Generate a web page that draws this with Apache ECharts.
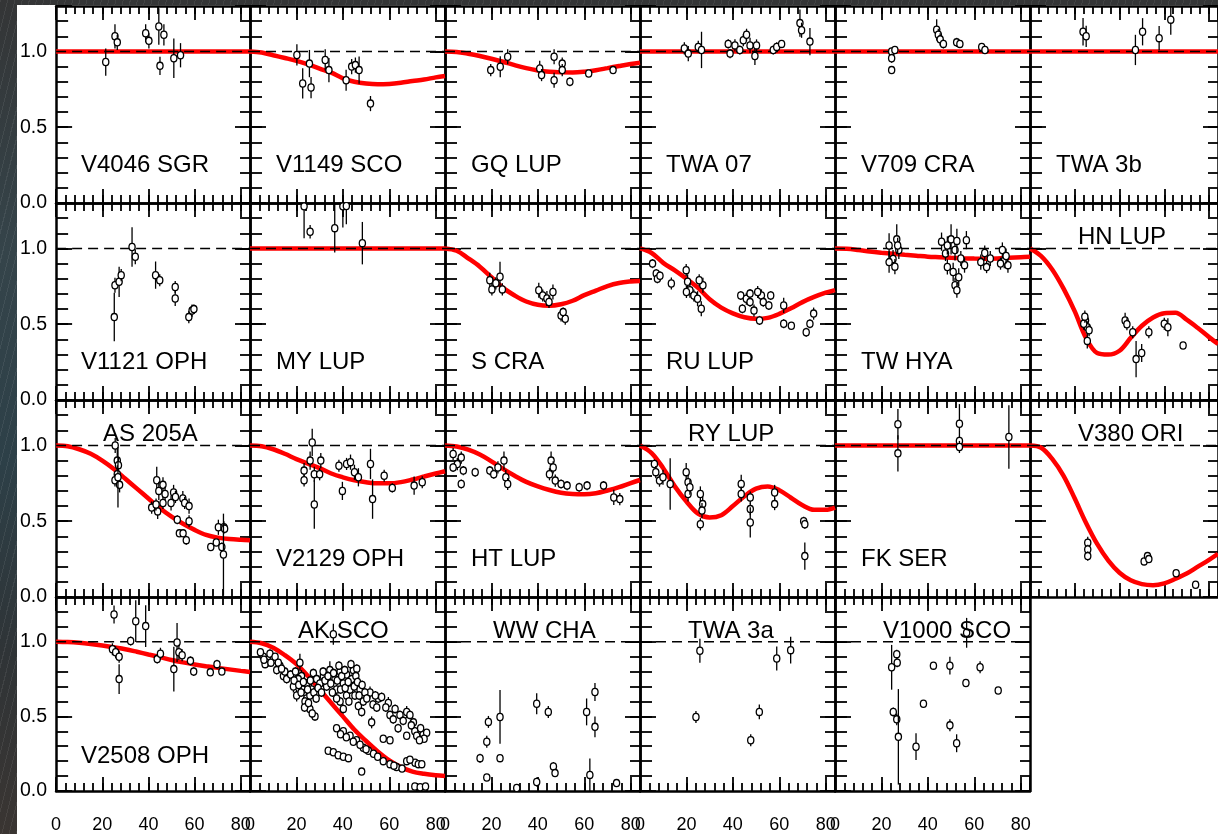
<!DOCTYPE html>
<html>
<head>
<meta charset="utf-8">
<script src="https://cdn.jsdelivr.net/npm/echarts@6/dist/echarts.min.js"></script>
<style>
  html, body { margin: 0; padding: 0; width: 1218px; height: 834px; overflow: hidden; }
  body {
    background:
      repeating-linear-gradient(104deg, rgba(255,255,255,0.07) 0 1px, rgba(0,0,0,0) 1px 7px),
      linear-gradient(180deg, #343536 0%, #35444a 30%, #2d4048 55%, #2f3437 78%, #3a3532 100%);
  }
  #chart { position: absolute; left: 17px; top: 5px; width: 1201px; height: 829px; background: #fff; }
</style>
</head>
<body>
<div id="chart"></div>
<script>
// Baseline grid on which every model curve is sampled (m)
const modelX = [0, 5, 10, 15, 20, 25, 30, 35, 40, 45, 50, 55, 60, 65, 70, 75, 80, 84];
const xTickLabels = [0, 20, 40, 60, 80];
const yTickLabels = [0.0, 0.5, 1.0];
const unityLine = [[0, 1], [84, 1]];

// Unresolved (point-like) model
const flatModel = [1, 1, 1, 1, 1, 1, 1, 1, 1, 1, 1, 1, 1, 1, 1, 1, 1, 1];

// Observations: [baseline, squared visibility, error]
const v4046Sgr = [[21.5,0.93,0.09],[25.5,1.10,0.08],[26.5,1.06,0.05],[38.8,1.12,0.06],[40.2,1.07,0.05],[44.5,1.165,0.12],[46.7,1.11,0.07],[45.0,0.905,0.06],[51.0,0.955,0.13],[53.9,0.975,0.08]];

const v1149Sco = [[20.2,0.977,0.07],[22.7,0.789,0.1],[25.6,0.92,0.09],[26.3,0.762,0.07],[32.4,0.944,0.07],[34.0,0.877,0.08],[41.4,0.81,0.07],[43.8,0.90,0.05],[45.4,0.91,0.05],[47.0,0.877,0.09],[51.9,0.656,0.05]];
const v1149ScoModel = [1.0,0.993,0.975,0.957,0.938,0.915,0.887,0.86,0.823,0.8,0.788,0.783,0.786,0.794,0.805,0.815,0.829,0.838];

const gqLup = [[19.7,0.877,0.04],[23.8,0.899,0.07],[27.0,0.965,0.05],[40.8,0.888,0.05],[41.6,0.844,0.04],[47.0,0.965,0.05],[47.0,0.81,0.05],[50.5,0.92,0.04],[50.5,0.877,0.04],[53.8,0.80,0.03],[61.9,0.855,0.02],[72.4,0.877,0.02]];
const gqLupModel = [1.0,0.997,0.985,0.97,0.952,0.932,0.91,0.89,0.875,0.866,0.862,0.861,0.866,0.876,0.89,0.904,0.917,0.925];

const twa07 = [[19.1,1.02,0.04],[20.8,0.986,0.05],[25.1,1.03,0.04],[26.5,1.01,0.12],[38.0,1.05,0.03],[38.8,0.986,0.03],[40.9,1.04,0.04],[43.0,1.01,0.03],[44.5,1.074,0.04],[45.9,1.11,0.04],[47.4,1.04,0.05],[49.5,0.97,0.06],[50.2,1.04,0.04],[57.4,1.01,0.03],[58.9,1.03,0.03],[61.0,1.05,0.02],[68.9,1.187,0.09],[69.6,1.14,0.05],[73.2,1.065,0.09]];

const v709Cra = [[24.4,1.0,0.02],[24.4,0.955,0.03],[24.4,0.877,0.02],[25.8,1.01,0.02],[43.8,1.143,0.07],[44.5,1.11,0.04],[45.3,1.08,0.04],[46.7,1.05,0.03],[52.4,1.06,0.03],[53.8,1.05,0.02],[63.2,1.03,0.02],[64.6,1.01,0.02]];

const twa3b = [[23.7,1.13,0.09],[25.1,1.10,0.07],[47.1,1.01,0.1],[50.3,1.13,0.09],[57.7,1.088,0.08],[62.9,1.21,0.1]];

const v1121Oph = [[25.2,0.547,0.16],[25.5,0.757,0.05],[27.3,0.78,0.1],[28.2,0.824,0.04],[32.9,1.01,0.13],[34.3,0.945,0.05],[43.1,0.824,0.09],[44.9,0.79,0.04],[51.6,0.746,0.04],[51.6,0.67,0.05],[57.5,0.547,0.04],[58.9,0.59,0.04],[59.7,0.60,0.03]];

const myLup = [[23.3,1.278,0.21],[25.9,1.11,0.045],[36.5,1.134,0.16],[40.0,1.278,0.14],[41.5,1.28,0.12],[48.4,1.035,0.14]];

const sCra = [[19.3,0.79,0.05],[20.2,0.73,0.04],[21.9,0.77,0.04],[23.7,0.813,0.1],[24.7,0.73,0.04],[40.4,0.724,0.05],[42.1,0.69,0.04],[43.9,0.67,0.05],[46.5,0.713,0.05],[44.8,0.647,0.04],[50.0,0.558,0.04],[51.8,0.536,0.04],[50.9,0.58,0.03]];
const sCraModel = [1.0,0.985,0.935,0.88,0.81,0.74,0.69,0.65,0.628,0.622,0.632,0.655,0.692,0.722,0.752,0.772,0.782,0.786];

const ruLup = [[5.4,0.90,0.03],[7.0,0.835,0.03],[7.5,0.80,0.03],[8.6,0.82,0.03],[13.5,0.769,0.04],[19.9,0.857,0.04],[20.5,0.78,0.05],[21.5,0.724,0.05],[20.0,0.713,0.04],[23.2,0.69,0.04],[24.8,0.668,0.05],[26.4,0.602,0.05],[27.1,0.757,0.05],[25.5,0.79,0.04],[43.4,0.69,0.03],[44.1,0.602,0.03],[45.8,0.668,0.04],[47.4,0.646,0.03],[47.4,0.702,0.03],[49.1,0.59,0.04],[51.5,0.525,0.03],[52.3,0.69,0.04],[53.1,0.646,0.03],[55.5,0.624,0.03],[56.3,0.69,0.03],[50.7,0.713,0.04],[61.9,0.624,0.05],[61.9,0.503,0.03],[65.2,0.49,0.02],[71.6,0.447,0.03],[73.2,0.503,0.03],[74.8,0.57,0.04]];
const ruLupModel = [1.0,0.97,0.905,0.855,0.8,0.74,0.665,0.61,0.572,0.546,0.536,0.542,0.568,0.605,0.646,0.68,0.708,0.725];

const twHya = [[23.3,1.02,0.08],[25.0,0.93,0.06],[26.6,1.06,0.1],[27.5,0.99,0.06],[25.8,0.88,0.05],[23.3,0.91,0.07],[27.0,1.02,0.05],[45.9,1.045,0.06],[47.6,0.967,0.05],[48.4,1.02,0.06],[50.0,1.06,0.1],[51.7,0.99,0.07],[52.5,1.05,0.08],[50.9,0.845,0.06],[51.7,0.757,0.05],[53.3,0.81,0.06],[54.2,0.934,0.05],[55.8,0.89,0.05],[56.6,1.055,0.06],[48.4,0.878,0.05],[52.5,0.724,0.05],[62.8,0.91,0.05],[64.5,0.97,0.05],[65.3,0.877,0.04],[66.9,0.934,0.05],[72.1,0.99,0.05],[72.9,0.92,0.05],[74.5,0.89,0.05],[73.7,0.95,0.05],[71.3,0.90,0.04]];
const twHyaModel = [1.0,0.998,0.99,0.98,0.972,0.965,0.958,0.952,0.946,0.942,0.938,0.935,0.933,0.932,0.934,0.938,0.942,0.945];

const hnLup = [[24.8,0.525,0.05],[25.6,0.48,0.04],[24.0,0.503,0.04],[26.4,0.46,0.04],[25.6,0.39,0.05],[24.5,0.55,0.04],[42.5,0.525,0.05],[43.3,0.50,0.04],[45.9,0.447,0.04],[47.4,0.27,0.12],[49.9,0.31,0.06],[53.1,0.447,0.04],[60.0,0.503,0.04],[61.6,0.48,0.06],[68.4,0.36,0.02]];
const hnLupModel = [1.0,0.95,0.86,0.735,0.585,0.41,0.31,0.3,0.325,0.41,0.49,0.545,0.572,0.575,0.53,0.475,0.415,0.37];

const as205a = [[25.6,1.0,0.05],[26.5,0.9,0.08],[27.0,0.87,0.05],[26.5,0.81,0.06],[25.5,0.77,0.04],[27.5,0.74,0.05],[26.8,0.79,0.2],[43.6,0.77,0.09],[44.5,0.70,0.06],[46.3,0.74,0.05],[47.2,0.68,0.05],[41.4,0.59,0.04],[44.0,0.565,0.05],[46.3,0.62,0.04],[43.3,0.61,0.04],[50.9,0.69,0.05],[51.7,0.66,0.04],[49.8,0.62,0.05],[52.5,0.51,0.03],[53.4,0.42,0.02],[55.0,0.42,0.02],[54.9,0.65,0.05],[55.7,0.62,0.04],[56.4,0.375,0.03],[57.6,0.60,0.05],[57.6,0.50,0.04],[67.0,0.33,0.02],[69.4,0.36,0.02],[70.3,0.46,0.05],[71.8,0.33,0.03],[72.7,0.46,0.04],[73.0,0.45,0.03],[72.5,0.28,0.27]];
const as205aModel = [1.0,0.995,0.975,0.945,0.9,0.845,0.78,0.715,0.65,0.585,0.53,0.483,0.443,0.41,0.392,0.382,0.377,0.375];

const v2129Oph = [[26.8,1.02,0.09],[25.9,0.90,0.06],[23.3,0.834,0.05],[23.3,0.77,0.04],[27.7,0.81,0.05],[30.0,0.81,0.04],[27.7,0.61,0.16],[30.5,0.9,0.05],[38.3,0.866,0.04],[39.8,0.70,0.06],[41.6,0.878,0.04],[43.3,0.89,0.05],[45.0,0.823,0.05],[46.7,0.79,0.06],[51.9,0.878,0.1],[52.8,0.646,0.13],[57.8,0.80,0.04],[61.3,0.72,0.03],[70.7,0.735,0.06],[74.2,0.757,0.04]];
const v2129OphModel = [1.0,0.995,0.975,0.945,0.91,0.88,0.85,0.815,0.79,0.77,0.757,0.75,0.75,0.758,0.775,0.795,0.815,0.83];

const htLup = [[3.5,0.944,0.04],[5.3,0.877,0.04],[7.0,0.92,0.04],[3.5,0.855,0.03],[7.9,0.834,0.03],[7.0,0.746,0.03],[13.0,0.823,0.03],[19.3,0.834,0.03],[21.0,0.81,0.03],[22.8,0.855,0.04],[25.4,0.90,0.06],[26.2,0.79,0.05],[27.0,0.746,0.04],[45.7,0.90,0.06],[46.6,0.855,0.04],[45.0,0.81,0.04],[47.5,0.768,0.04],[50.0,0.746,0.03],[52.6,0.735,0.03],[57.8,0.724,0.03],[61.2,0.735,0.03],[68.3,0.735,0.03],[72.7,0.657,0.05],[75.3,0.646,0.04]];
const htLupModel = [1.0,0.993,0.972,0.94,0.895,0.845,0.8,0.76,0.73,0.706,0.688,0.68,0.678,0.685,0.703,0.725,0.752,0.772];

const ryLup = [[6.2,0.878,0.03],[6.8,0.824,0.04],[8.4,0.768,0.04],[9.9,0.79,0.05],[13.0,0.746,0.17],[19.9,0.824,0.06],[20.7,0.757,0.05],[20.7,0.68,0.05],[21.5,0.724,0.05],[26.0,0.68,0.05],[27.0,0.613,0.05],[26.0,0.48,0.04],[26.7,0.57,0.05],[43.6,0.746,0.06],[43.6,0.68,0.05],[47.5,0.657,0.04],[47.5,0.58,0.04],[47.5,0.492,0.1],[58.0,0.69,0.05],[58.0,0.613,0.04],[70.5,0.50,0.03],[71.0,0.48,0.03],[71.0,0.27,0.09]];
const ryLupModel = [1.0,0.95,0.85,0.73,0.63,0.55,0.525,0.54,0.6,0.665,0.715,0.73,0.705,0.655,0.605,0.575,0.575,0.59];

const fkSer = [[27.1,1.14,0.1],[27.1,0.948,0.12],[53.6,1.143,0.13],[53.6,1.03,0.03],[53.6,0.99,0.04],[74.9,1.056,0.21]];

const v380Ori = [[25.8,0.358,0.04],[25.8,0.314,0.03],[25.8,0.27,0.03],[51.0,0.235,0.02],[52.5,0.27,0.02],[53.1,0.25,0.02],[65.3,0.157,0.02],[74.0,0.081,0.02]];
const v380OriModel = [1.0,0.985,0.91,0.8,0.65,0.49,0.35,0.24,0.16,0.11,0.085,0.078,0.09,0.12,0.155,0.2,0.245,0.285];

const v2508Oph = [[25.1,1.183,0.06],[24.4,0.95,0.04],[25.8,0.93,0.04],[27.3,0.90,0.04],[27.3,0.75,0.1],[32.3,1.005,0.03],[34.5,1.138,0.14],[38.8,1.105,0.14],[43.8,0.884,0.03],[45.2,0.92,0.04],[51.0,0.817,0.15],[52.4,0.995,0.13],[53.2,0.93,0.05],[54.6,0.91,0.04],[58.2,0.872,0.03],[59.6,0.80,0.03],[66.8,0.795,0.02],[69.7,0.85,0.03],[71.8,0.80,0.02]];
const v2508OphModel = [1.0,0.998,0.993,0.985,0.975,0.963,0.95,0.933,0.915,0.897,0.878,0.862,0.848,0.836,0.825,0.815,0.805,0.798];

const akSco = [[5.7,0.90,0.03],[7.2,0.86,0.03],[8.6,0.92,0.03],[10.0,0.88,0.03],[6.5,0.85,0.02],[12.9,0.84,0.03],[11.5,0.81,0.03],[14.4,0.77,0.03],[15.8,0.75,0.03],[15.0,0.80,0.03],[18.7,0.70,0.04],[20.1,0.64,0.04],[21.5,0.86,0.06],[22.2,0.77,0.04],[22.9,0.68,0.04],[24.4,0.72,0.03],[24.4,0.62,0.04],[25.8,0.55,0.03],[26.5,0.68,0.04],[27.3,0.79,0.03],[28.0,0.50,0.03],[25.8,0.64,0.03],[23.7,0.60,0.03],[28.7,0.75,0.03],[20.8,0.75,0.03],[30.1,0.72,0.03],[31.6,0.77,0.04],[33.0,0.70,0.03],[34.4,0.81,0.06],[35.9,1.05,0.07],[36.6,0.75,0.03],[37.3,0.68,0.03],[38.8,0.80,0.04],[40.2,0.72,0.03],[41.6,0.78,0.04],[41.6,0.64,0.03],[43.1,0.68,0.03],[43.8,0.75,0.03],[44.5,0.81,0.03],[46.0,0.82,0.03],[45.2,0.64,0.03],[46.7,0.57,0.03],[38.8,0.60,0.03],[40.2,0.55,0.03],[37.3,0.62,0.03],[47.4,0.68,0.03],[48.8,0.60,0.03],[48.1,0.53,0.03],[51.7,0.66,0.04],[52.4,0.46,0.04],[55.3,0.62,0.03],[56.7,0.63,0.03],[54.0,0.64,0.03],[59.6,0.59,0.04],[60.3,0.51,0.03],[61.7,0.48,0.03],[63.8,0.42,0.03],[64.6,0.51,0.03],[57.4,0.35,0.02],[60.3,0.34,0.02],[67.5,0.53,0.04],[68.9,0.51,0.03],[70.4,0.46,0.03],[71.0,0.40,0.03],[67.5,0.37,0.02],[71.8,0.37,0.02],[74.6,0.38,0.02],[76.1,0.39,0.02],[67.5,0.20,0.02],[71.1,0.19,0.02],[72.5,0.18,0.02],[37.3,0.42,0.02],[40.2,0.40,0.02],[43.1,0.37,0.02],[45.9,0.34,0.02],[48.8,0.29,0.02],[51.0,0.27,0.02],[53.2,0.25,0.02],[57.4,0.20,0.02],[60.3,0.18,0.02],[63.1,0.16,0.02],[44.5,0.33,0.02],[47.4,0.31,0.02],[33.7,0.27,0.02],[35.9,0.26,0.02],[38.0,0.24,0.02],[40.2,0.23,0.02],[42.4,0.22,0.02],[48.1,0.13,0.02],[71.0,0.03,0.02],[73.3,0.025,0.02],[75.6,0.03,0.02],
  [4.5,0.93,0.02],[6.0,0.88,0.02],[9.0,0.86,0.02],[10.8,0.90,0.02],[12.2,0.86,0.02],[13.6,0.82,0.02],[17.5,0.78,0.03],[19.0,0.74,0.03],[19.6,0.80,0.03],[21.0,0.71,0.03],[22.0,0.66,0.03],[23.0,0.73,0.03],[23.5,0.56,0.03],[24.8,0.68,0.03],[25.2,0.59,0.03],[26.0,0.74,0.03],[26.8,0.52,0.03],[27.5,0.66,0.03],[28.5,0.62,0.03],[29.3,0.69,0.03],[30.8,0.66,0.03],[31.5,0.80,0.03],[32.3,0.74,0.03],[33.6,0.77,0.03],[34.8,0.72,0.03],[35.5,0.66,0.03],[36.0,0.79,0.03],[37.6,0.74,0.03],[38.3,0.84,0.03],[39.5,0.77,0.03],[39.0,0.68,0.03],[40.8,0.81,0.03],[41.0,0.69,0.03],[42.3,0.73,0.03],[42.6,0.60,0.03],[43.5,0.85,0.03],[44.9,0.70,0.03],[45.6,0.77,0.03],[46.3,0.73,0.03],[47.0,0.64,0.03],[48.3,0.71,0.03],[49.5,0.66,0.03],[50.3,0.62,0.03],[53.0,0.58,0.03],[54.6,0.56,0.03],[58.5,0.56,0.03],[62.5,0.55,0.03],[66.0,0.47,0.03],[69.5,0.44,0.03],[73.5,0.42,0.03],[75.0,0.35,0.02],[73.0,0.34,0.02],[39.0,0.38,0.02],[41.5,0.36,0.02],[50.0,0.28,0.02],[55.0,0.23,0.02],[62.0,0.17,0.02],[65.5,0.15,0.02],[68.9,0.21,0.02],[74.0,0.18,0.02]];
const akScoModel = [1.0,0.99,0.96,0.91,0.85,0.77,0.68,0.59,0.5,0.41,0.335,0.265,0.205,0.16,0.13,0.115,0.105,0.1];

const wwCha = [[15.1,0.22,0.03],[18.0,0.33,0.04],[18.7,0.463,0.04],[23.7,0.496,0.18],[23.7,0.22,0.02],[18.0,0.09,0.02],[30.9,0.02,0.02],[39.5,0.585,0.07],[39.5,0.06,0.03],[44.5,0.53,0.04],[46.7,0.164,0.03],[47.4,0.12,0.02],[61.0,0.53,0.09],[64.6,0.663,0.06],[64.6,0.43,0.07],[62.4,0.108,0.11],[73.9,0.053,0.02]];

const twa3a = [[25.8,0.94,0.08],[24.1,0.496,0.04],[47.7,0.34,0.04],[51.4,0.53,0.05],[58.9,0.888,0.08],[64.9,0.944,0.09]];

const v1000Sco = [[24.4,0.829,0.15],[26.6,0.917,0.03],[26.8,0.86,0.03],[25.1,0.53,0.03],[26.6,0.48,0.04],[27.3,0.363,0.32],[34.9,0.297,0.09],[38.1,0.585,0.02],[42.4,0.84,0.02],[49.5,0.84,0.06],[49.5,0.44,0.04],[52.4,0.32,0.06],[56.4,0.724,0.02],[62.5,0.829,0.04],[70.3,0.673,0.02],[56.7,1.06,0.1]];

// Panel order is row by row; "top" puts the star name above the unity line
const panels = [
  { name: 'V4046 SGR', obs: v4046Sgr, model: flatModel, tag: 'low' },
  { name: 'V1149 SCO', obs: v1149Sco, model: v1149ScoModel, tag: 'low' },
  { name: 'GQ LUP', obs: gqLup, model: gqLupModel, tag: 'low' },
  { name: 'TWA 07', obs: twa07, model: flatModel, tag: 'low' },
  { name: 'V709 CRA', obs: v709Cra, model: flatModel, tag: 'low' },
  { name: 'TWA 3b', obs: twa3b, model: flatModel, tag: 'low' },
  { name: 'V1121 OPH', obs: v1121Oph, model: null, tag: 'low' },
  { name: 'MY LUP', obs: myLup, model: flatModel, tag: 'low' },
  { name: 'S CRA', obs: sCra, model: sCraModel, tag: 'low' },
  { name: 'RU LUP', obs: ruLup, model: ruLupModel, tag: 'low' },
  { name: 'TW HYA', obs: twHya, model: twHyaModel, tag: 'low' },
  { name: 'HN LUP', obs: hnLup, model: hnLupModel, tag: 'top' },
  { name: 'AS 205A', obs: as205a, model: as205aModel, tag: 'top' },
  { name: 'V2129 OPH', obs: v2129Oph, model: v2129OphModel, tag: 'low' },
  { name: 'HT LUP', obs: htLup, model: htLupModel, tag: 'low' },
  { name: 'RY LUP', obs: ryLup, model: ryLupModel, tag: 'top' },
  { name: 'FK SER', obs: fkSer, model: flatModel, tag: 'low' },
  { name: 'V380 ORI', obs: v380Ori, model: v380OriModel, tag: 'top' },
  { name: 'V2508 OPH', obs: v2508Oph, model: v2508OphModel, tag: 'low' },
  { name: 'AK SCO', obs: akSco, model: akScoModel, tag: 'top' },
  { name: 'WW CHA', obs: wwCha, model: null, tag: 'top' },
  { name: 'TWA 3a', obs: twa3a, model: null, tag: 'top' },
  { name: 'V1000 SCO', obs: v1000Sco, model: null, tag: 'top' }
];

const FONT = '"Liberation Sans", Arial, Helvetica, sans-serif';
const COLS = 6, PANEL_W = 195, PANEL_H = 197, LEFT0 = 38, TOP0 = 1;
const X_MAX = 84, Y_MAX = 1.3;

const grids = [], xAxes = [], yAxes = [], series = [], texts = [];

function tickAxis(base, interval, length, showLine) {
  return Object.assign({
    type: 'value', interval: interval,
    axisLine: { show: showLine, onZero: false, lineStyle: { color: '#000', width: 2.5 } },
    axisTick: { show: true, inside: true, length: length, lineStyle: { color: '#000', width: 1.8 } },
    axisLabel: { show: false },
    splitLine: { show: false }
  }, base);
}

function xLabel(keep) {
  return {
    show: true, margin: 25, color: '#000', fontFamily: FONT, fontSize: 18,
    showMinLabel: true, showMaxLabel: true, hideOverlap: false,
    formatter: v => (xTickLabels.indexOf(v) >= 0 && keep(v) ? String(v) : '')
  };
}

function drawObs(params, api) {
  const x = api.value(0), y = api.value(1), e = api.value(2);
  const c = api.coord([x, y]);
  const hi = api.coord([x, y + e]);
  const lo = api.coord([x, y - e]);
  return {
    type: 'group',
    children: [
      { type: 'line', shape: { x1: c[0], y1: hi[1], x2: c[0], y2: lo[1] }, style: { stroke: '#000', lineWidth: 1.3 } },
      { type: 'ellipse', shape: { cx: c[0], cy: c[1], rx: 3.1, ry: 3.6 }, style: { fill: '#fff', stroke: '#000', lineWidth: 1.3 } }
    ]
  };
}

panels.forEach((p, i) => {
  const row = Math.floor(i / COLS), col = i % COLS;
  const left = LEFT0 + col * PANEL_W, top = TOP0 + row * PANEL_H;
  grids.push({ left: left, top: top, width: PANEL_W, height: PANEL_H, containLabel: false });

  const xb = { gridIndex: i, min: 0, max: X_MAX };
  const bottomMajor = tickAxis(Object.assign({ position: 'bottom' }, xb), 20, 14, true);
  const bottomMinor = tickAxis(Object.assign({ position: 'bottom' }, xb), 4, 8, false);
  if (row === 3) {
    // the zero label sits on the minor axis so it is kept next to the neighbour's "80"
    bottomMajor.axisLabel = xLabel(v => v !== 0);
    bottomMinor.axisLabel = xLabel(v => v === 0);
  }
  xAxes.push(bottomMajor);
  xAxes.push(bottomMinor);
  xAxes.push(tickAxis(Object.assign({ position: 'top' }, xb), 20, 14, true));
  xAxes.push(tickAxis(Object.assign({ position: 'top' }, xb), 4, 8, false));

  const yb = { gridIndex: i, min: 0, max: Y_MAX };
  const leftMajor = tickAxis(Object.assign({ position: 'left' }, yb), 0.5, 16, true);
  if (col === 0) {
    leftMajor.axisLabel = {
      show: true, margin: 9, color: '#000', fontFamily: FONT, fontSize: 19.5,
      formatter: v => (yTickLabels.some(t => Math.abs(t - v) < 1e-6) ? v.toFixed(1) : '')
    };
  }
  yAxes.push(leftMajor);
  yAxes.push(tickAxis(Object.assign({ position: 'left' }, yb), 0.1, 12, false));
  yAxes.push(tickAxis(Object.assign({ position: 'right' }, yb), 0.5, 15, true));
  yAxes.push(tickAxis(Object.assign({ position: 'right' }, yb), 0.1, 10, false));

  const ax = { xAxisIndex: 4 * i, yAxisIndex: 4 * i };

  if (p.model) {
    series.push(Object.assign({
      type: 'line', name: p.name + ' model', smooth: 0.35, symbol: 'none', clip: true, z: 3,
      lineStyle: { color: '#ff0000', width: 4.5 },
      data: modelX.map((x, k) => [x, p.model[k]])
    }, ax));
  }
  series.push(Object.assign({
    type: 'line', name: p.name + ' unity', symbol: 'none', clip: true, z: 4,
    lineStyle: { color: '#000', width: 1.4, type: [10, 6] },
    data: unityLine
  }, ax));
  series.push(Object.assign({
    type: 'custom', name: p.name, coordinateSystem: 'cartesian2d', clip: true, z: 5,
    encode: { x: 0, y: 1 },
    renderItem: drawObs,
    data: p.obs
  }, ax));

  const isTop = p.tag === 'top';
  texts.push({
    type: 'text', z: 20,
    x: left + (isTop ? 48 : 26),
    y: row * PANEL_H + (isTop ? 35 : 160),
    style: {
      text: p.name, fill: '#000', font: '24px ' + FONT,
      align: 'left', verticalAlign: 'middle'
    }
  });
});

const chart = echarts.init(document.getElementById('chart'), null, { renderer: 'canvas' });
chart.setOption({
  animation: false,
  backgroundColor: '#ffffff',
  grid: grids,
  xAxis: xAxes,
  yAxis: yAxes,
  series: series,
  graphic: texts
});
</script>
</body>
</html>
